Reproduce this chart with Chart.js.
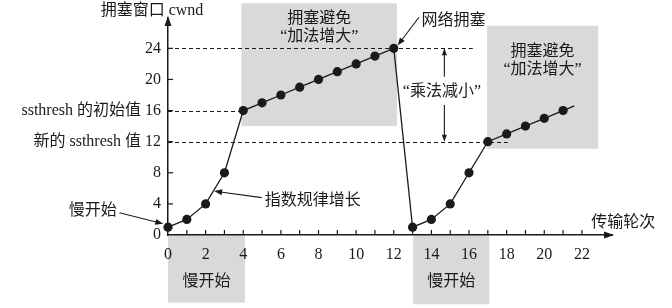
<!DOCTYPE html>
<html>
<head>
<meta charset="utf-8">
<script src="https://cdn.jsdelivr.net/npm/chart.js@4.4.1/dist/chart.umd.min.js"></script>
<style>
  html, body { margin: 0; padding: 0; background: #fff; }
  canvas { display: block; }
</style>
</head>
<body>
<canvas id="grafica" width="672" height="308"></canvas>
<script>
// datos
const rondas = [0, 1, 2, 3, 4, 5, 6, 7, 8, 9, 10, 11, 12, 13, 14, 15, 16, 17, 18, 19, 20, 21, 21.6];
const cwnd   = [1, 2, 4, 8, 16, 17, 18, 19, 20, 21, 22, 23, 24, 1, 2, 4, 8, 12, 13, 14, 15, 16, 16.6];
const xTicks = [0, 1, 2, 3, 4, 5, 6, 7, 8, 9, 10, 11, 12, 13, 14, 15, 16, 17, 18, 19, 20, 21, 22];
const yTicks = [0, 4, 8, 12, 16, 20, 24];
const yTickLabels = ['0', '4', '8', '新的 ssthresh 值 12', 'ssthresh 的初始值 16', '20', '24'];

// zonas sombreadas (en unidades de datos)
const zonasX = [[3.9, 12.17], [16.96, 22.87], [0, 4.09], [13.03, 17.08]];
const zonasY = [[14.0, 29.8], [11.1, 26.9], [-8.7, 0], [-8.9, 0]];
// líneas punteadas: nivel y hasta dónde llegan
const punteadasY = [24, 16, 12];
const punteadasHasta = [16.2, 4, 18.06];

const FUENTE = "'Liberation Serif', 'Noto Sans CJK SC', serif";
const NEGRO = '#1a1a1a';
const GRIS = '#d9d9d9';

function flecha(ctx, x1, y1, x2, y2, largo = 8, ancho = 3) {
  const ang = Math.atan2(y2 - y1, x2 - x1);
  ctx.beginPath();
  ctx.moveTo(x1, y1);
  ctx.lineTo(x2 - Math.cos(ang) * largo * 0.8, y2 - Math.sin(ang) * largo * 0.8);
  ctx.stroke();
  ctx.beginPath();
  ctx.moveTo(x2, y2);
  ctx.lineTo(x2 - Math.cos(ang) * largo - Math.sin(ang) * ancho, y2 - Math.sin(ang) * largo + Math.cos(ang) * ancho);
  ctx.lineTo(x2 - Math.cos(ang) * largo + Math.sin(ang) * ancho, y2 - Math.sin(ang) * largo - Math.cos(ang) * ancho);
  ctx.closePath();
  ctx.fill();
}

// Fondo: zonas grises y líneas punteadas
const pluginFondo = {
  id: 'fondo',
  beforeDraw(chart) {
    const { ctx, scales: { x, y } } = chart;
    ctx.save();
    ctx.fillStyle = GRIS;
    zonasX.forEach((zx, i) => {
      const x0 = x.getPixelForValue(zx[0]), x1 = x.getPixelForValue(zx[1]);
      const y0 = y.getPixelForValue(zonasY[i][1]), y1 = y.getPixelForValue(zonasY[i][0]);
      ctx.fillRect(x0, y0, x1 - x0, y1 - y0);
    });
    ctx.restore();
  },
  beforeDatasetsDraw(chart) {
    const { ctx, scales: { x, y } } = chart;
    ctx.save();
    ctx.strokeStyle = NEGRO;
    ctx.lineWidth = 1;
    ctx.setLineDash([4, 3]);
    punteadasY.forEach((v, i) => {
      const py = Math.round(y.getPixelForValue(v)) + 0.5;
      ctx.beginPath();
      ctx.moveTo(x.getPixelForValue(0), py);
      ctx.lineTo(x.getPixelForValue(punteadasHasta[i]), py);
      ctx.stroke();
    });
    ctx.setLineDash([]);

    // marcas de los ejes hacia adentro
    ctx.lineWidth = 1.2;
    const base = y.getPixelForValue(0);
    xTicks.forEach(v => {
      if (v === 0) return;
      const px = x.getPixelForValue(v);
      ctx.beginPath();
      ctx.moveTo(px, base);
      ctx.lineTo(px, base - 5);
      ctx.stroke();
    });
    const izq = x.getPixelForValue(0);
    yTicks.forEach(v => {
      if (v === 0) return;
      const py = y.getPixelForValue(v);
      ctx.beginPath();
      ctx.moveTo(izq, py);
      ctx.lineTo(izq + 5, py);
      ctx.stroke();
    });

    // puntas de flecha de los ejes
    ctx.fillStyle = NEGRO;
    const ca = chart.chartArea;
    ctx.beginPath();
    ctx.moveTo(ca.right + 2, base);
    ctx.lineTo(ca.right - 8, base - 3.5);
    ctx.lineTo(ca.right - 8, base + 3.5);
    ctx.closePath();
    ctx.fill();
    ctx.beginPath();
    ctx.moveTo(izq, ca.top - 2);
    ctx.lineTo(izq - 3.5, ca.top + 8);
    ctx.lineTo(izq + 3.5, ca.top + 8);
    ctx.closePath();
    ctx.fill();
    ctx.restore();
  },
  afterDraw(chart) {
    const { ctx, scales: { x, y } } = chart;
    const px = v => x.getPixelForValue(v);
    const py = v => y.getPixelForValue(v);
    ctx.save();
    ctx.fillStyle = NEGRO;
    ctx.strokeStyle = NEGRO;
    ctx.lineWidth = 1.1;
    ctx.font = '16px ' + FUENTE;
    ctx.textBaseline = 'middle';

    const texto = (t, vx, vy, alin = 'center') => {
      ctx.textAlign = alin;
      ctx.fillText(t, px(vx), py(vy));
    };

    texto('拥塞窗口 cwnd', -0.85, 28.8);
    texto('传输轮次', 22.5, 1.55, 'left');

    texto('拥塞避免', 8.04, 27.76);
    texto('“加法增大”', 8.04, 25.45);
    texto('拥塞避免', 19.91, 23.52);
    texto('“加法增大”', 19.91, 21.2);

    texto('慢开始', 2.05, -6.05);
    texto('慢开始', 15.05, -6.05);

    texto('网络拥塞', 13.48, 27.6, 'left');
    flecha(ctx, px(13.34), py(28.0), px(12.2), py(24.35));

    texto('“乘法减小”', 14.56, 18.4);
    flecha(ctx, px(14.69), py(20.35), px(14.69), py(24), 7, 2.5);
    flecha(ctx, px(14.69), py(16.7), px(14.69), py(12), 7, 2.5);

    texto('慢开始', -2.72, 3.1, 'right');
    flecha(ctx, px(-2.58), py(2.85), px(-0.25), py(1.45));

    texto('指数规律增长', 5.14, 4.4, 'left');
    flecha(ctx, px(4.98), py(4.8), px(2.45), py(5.65));
    ctx.restore();
  }
};

const ctx = document.getElementById('grafica').getContext('2d');
const ultimo = rondas.length - 1;

new Chart(ctx, {
  type: 'line',
  data: {
    datasets: [{
      data: rondas.map((r, i) => ({ x: r, y: cwnd[i] })),
      borderColor: NEGRO,
      borderWidth: 1.3,
      pointRadius: rondas.map((_, i) => i === ultimo ? 0 : 4.6),
      pointBackgroundColor: NEGRO,
      pointBorderWidth: 0,
      tension: 0,
      clip: false
    }]
  },
  options: {
    responsive: false,
    animation: false,
    layout: { padding: { top: 18, right: 60, left: 0, bottom: 0 } },
    plugins: { legend: { display: false }, tooltip: { enabled: false } },
    scales: {
      x: {
        type: 'linear',
        min: 0,
        max: 23.6,
        afterBuildTicks: s => { s.ticks = xTicks.map(v => ({ value: v })); },
        afterFit: s => { s.height = 73; },
        grid: { display: false, drawTicks: false },
        border: { color: NEGRO, width: 1.5 },
        ticks: {
          autoSkip: false,
          maxRotation: 0,
          padding: 10,
          color: NEGRO,
          font: { family: FUENTE, size: 16 },
          callback: v => (v % 2 === 0 ? String(v) : '')
        }
      },
      y: {
        type: 'linear',
        min: 0,
        max: 27.9,
        afterBuildTicks: s => { s.ticks = yTicks.map(v => ({ value: v })); },
        afterFit: s => { s.width = 168; },
        grid: { display: false, drawTicks: false },
        border: { color: NEGRO, width: 1.5 },
        ticks: {
          padding: 7,
          color: NEGRO,
          font: { family: FUENTE, size: 16 },
          callback: v => yTickLabels[yTicks.indexOf(v)]
        }
      }
    }
  },
  plugins: [pluginFondo]
});
</script>
</body>
</html>
